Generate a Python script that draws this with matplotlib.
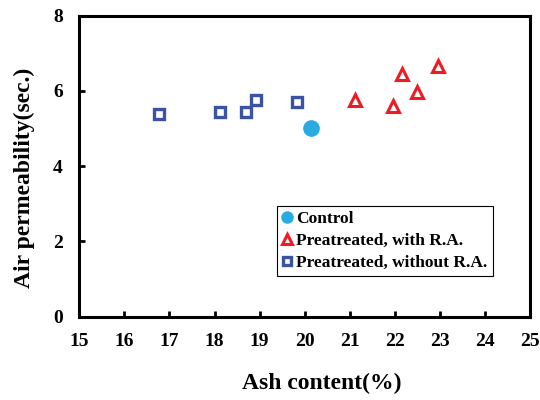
import numpy as np
import matplotlib.pyplot as plt

plt.rcParams['font.family'] = ['Liberation Serif', 'DejaVu Serif']
plt.rcParams['font.weight'] = 'bold'

# 데이터
ctrl_x = [20.14]
ctrl_y = [5.01]
with_ra_x = [21.11, 21.96, 22.16, 22.50, 22.96]
with_ra_y = [5.76, 5.60, 6.45, 5.96, 6.67]
without_ra_x = [16.77, 18.13, 18.69, 18.91, 19.82]
without_ra_y = [5.38, 5.44, 5.44, 5.76, 5.70]
xticks = np.arange(15, 26, 1)
yticks = np.arange(0, 9, 2)

fig = plt.figure(figsize=(5.4, 4.0), dpi=100)
ax = fig.add_axes([79.3 / 540, 1 - 316.7 / 400, (530 - 79.3) / 540, (316.7 - 15.7) / 400])

ax.plot(ctrl_x, ctrl_y, 'o', color='#29abe2', markersize=12, markeredgewidth=0,
        linestyle='none', label='Control')
ax.plot(with_ra_x, with_ra_y, '^', markerfacecolor='none', markeredgecolor='#ed1c24',
        markeredgewidth=2.2, markersize=9, linestyle='none', label='Preatreated, with R.A.')
ax.plot(without_ra_x, without_ra_y, 's', markerfacecolor='none', markeredgecolor='#3a53a4',
        markeredgewidth=2.4, markersize=7.7, linestyle='none', label='Preatreated, without R.A.')

ax.set_xlim(15, 25)
ax.set_ylim(0, 8)
ax.set_xticks(xticks)
ax.set_yticks(yticks)
ax.tick_params(direction='in', length=4, width=2, labelsize=14, top=False, right=False)
ax.tick_params(axis='x', pad=12)
ax.tick_params(axis='y', pad=12)
for s in ax.spines.values():
    s.set_linewidth(2.2)

ax.set_xlabel('Ash content(%)', fontsize=17, fontweight='bold', labelpad=16)
ax.set_ylabel('Air permeability(sec.)', fontsize=17, fontweight='bold', labelpad=13)
# 축 제목 위치를 약간 옮긴다
ax.xaxis.label.set_x(0.537)
ax.yaxis.label.set_y(0.461)

leg = ax.legend(loc='lower left', bbox_to_anchor=((277 - 79.3) / 450.7, (316.7 - 276) / 301),
                fontsize=12.5, handlelength=0.6, handletextpad=0.2, borderpad=0.3,
                labelspacing=0.32, markerscale=0.75, fancybox=False, framealpha=1,
                borderaxespad=0)
leg.get_frame().set_edgecolor('black')
leg.get_frame().set_linewidth(0.8)

plt.savefig('out.png', dpi=100)
